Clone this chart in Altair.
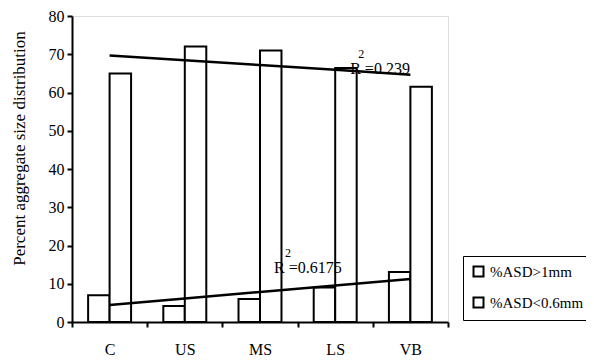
import altair as alt
import pandas as pd
import numpy as np

categories = ["C", "US", "MS", "LS", "VB"]
asd_gt_1mm = [7.0, 4.2, 6.0, 9.0, 13.1]
asd_lt_06mm = [65.0, 72.0, 71.0, 66.4, 61.5]
series_names = ["%ASD>1mm", "%ASD<0.6mm"]
r2_texts = ["R   =0.6175", "R  =0.239"]
r2_anchor_cat = ["MS", "LS"]
r2_anchor_val = [14.1, 66.1]
y_ticks = [0, 10, 20, 30, 40, 50, 60, 70, 80]

FONT = "Liberation Serif"

rows = []
for i, c in enumerate(categories):
    rows.append({"cat": c, "series": series_names[0], "value": asd_gt_1mm[i]})
    rows.append({"cat": c, "series": series_names[1], "value": asd_lt_06mm[i]})
bars_df = pd.DataFrame(rows)

idx = np.arange(1, len(categories) + 1)
fit_rows = []
for name, vals in zip(series_names, [asd_gt_1mm, asd_lt_06mm]):
    k, b = np.polyfit(idx, vals, 1)
    for i, c in enumerate(categories):
        fit_rows.append({"cat": c, "series": name, "fit": float(k * idx[i] + b)})
fit_df = pd.DataFrame(fit_rows)

x_axis = alt.Axis(
    title=None, tickBand="extent", labelAngle=0, labelFont=FONT, labelFontSize=16,
    labelColor="black", domainColor="black", domainWidth=2, tickColor="black",
    tickWidth=2, tickSize=5, labelPadding=14,
)
x_scale = alt.Scale(paddingInner=0, paddingOuter=0)
y_scale = alt.Scale(domain=[0, 80], nice=False)
y_axis = alt.Axis(
    title="Percent aggregate size distribution", values=y_ticks, tickCount=9,
    labelOverlap=False, grid=False, labelFont=FONT, labelFontSize=16, labelColor="black",
    domainColor="black", domainWidth=2, tickColor="black", tickWidth=2, tickSize=5,
    labelPadding=3, titleFont=FONT, titleFontSize=17, titleFontWeight="normal",
    titleColor="black", titleX=-44, titleY=132, titleAngle=270,
)


def X():
    return alt.X("cat:N", sort=categories, scale=x_scale, axis=x_axis)


def Y(field):
    return alt.Y(field, scale=y_scale, axis=y_axis)


bars = alt.Chart(bars_df).mark_bar(stroke="black", strokeWidth=2).encode(
    x=X(),
    xOffset=alt.XOffset("series:N", sort=series_names,
                        scale=alt.Scale(paddingOuter=0.75, paddingInner=0)),
    y=Y("value:Q"),
    fill=alt.Fill(
        "series:N",
        scale=alt.Scale(domain=series_names, range=["white", "white"]),
        sort=series_names,
        legend=alt.Legend(
            title=None, orient="none", legendX=391, legendY=240,
            strokeColor="black", padding=8, rowPadding=12,
            symbolType="square", symbolSize=100, symbolStrokeColor="black",
            symbolStrokeWidth=2, labelFont=FONT, labelFontSize=15,
            labelColor="black", labelOffset=4,
        ),
    ),
)

lines = alt.Chart(fit_df).mark_line(color="black", strokeWidth=2.5).encode(
    x=X(),
    y=Y("fit:Q"),
    detail="series:N",
)

layers = [bars, lines]
sup_dx = [25, 23]
main_dx = [14, 15]
for i in range(2):
    d = pd.DataFrame({"cat": [r2_anchor_cat[i]], "v": [r2_anchor_val[i]], "t": [r2_texts[i]]})
    layers.append(
        alt.Chart(d).mark_text(align="left", baseline="middle", font=FONT, fontSize=16,
                               color="black", dx=main_dx[i]).encode(
            x=X(), y=Y("v:Q"), text="t:N")
    )
    d2 = pd.DataFrame({"cat": [r2_anchor_cat[i]], "v": [r2_anchor_val[i]], "t": ["2"]})
    layers.append(
        alt.Chart(d2).mark_text(align="left", baseline="middle", font=FONT, fontSize=12,
                                color="black", dx=sup_dx[i], dy=-15).encode(
            x=X(), y=Y("v:Q"), text="t:N")
    )

chart = alt.layer(*layers).properties(
    width=376, height=306,
    autosize=alt.AutoSizeParams(type="none"),
    padding={"left": 64, "top": 8, "right": 138, "bottom": 34},
).configure_view(stroke=None).configure(font=FONT)

chart.save("out.html", embed_options={"renderer": "svg", "actions": False})
